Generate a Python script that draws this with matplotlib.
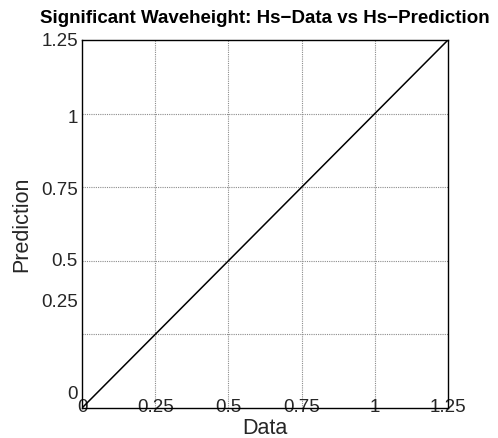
import matplotlib
matplotlib.use("Agg")
import matplotlib.pyplot as plt

# data
data_vals = [0.0, 1.25]
pred_vals = [0.0, 1.25]
x_ticks = [0, 0.25, 0.5, 0.75, 1.0, 1.25]
x_labels = ["0", "0.25", "0.5", "0.75", "1", "1.25"]
grid_vals = [0.25, 0.5, 0.75, 1.0]
y_tick_pos = [0.051, 0.364, 0.503, 0.747, 0.99, 1.25]
y_labels = ["0", "0.25", "0.5", "0.75", "1", "1.25"]

plt.rcParams['font.family'] = ['Liberation Sans', 'DejaVu Sans']

fig = plt.figure(figsize=(4.98, 4.38), dpi=100)
ax = fig.add_axes([82/498, 1-408/438, 366/498, 368/438])

for g in grid_vals:
    ax.axvline(g, color='#8c8c8c', linestyle=(0, (1, 1)), linewidth=0.8, zorder=1)
    ax.axhline(g, color='#8c8c8c', linestyle=(0, (1, 1)), linewidth=0.8, zorder=1)

ax.plot(data_vals, pred_vals, color='black', linewidth=1.1, zorder=3)

ax.set_xlim(0, 1.25)
ax.set_ylim(0, 1.25)
ax.set_xticks(x_ticks)
ax.set_xticklabels(x_labels)
ax.set_yticks(y_tick_pos)
ax.set_yticklabels(y_labels)
ax.tick_params(axis='both', length=0, labelsize=13.5, labelcolor='#262626')
ax.tick_params(axis='x', pad=0)
ax.tick_params(axis='y', pad=3)
for lab in ax.get_xticklabels():
    lab.set_va('center')

for s in ax.spines.values():
    s.set_color('black')
    s.set_linewidth(1.0)

ax.set_xlabel("Data", fontsize=15.5, color='#262626', labelpad=1)
ax.set_ylabel("Prediction", fontsize=15.5, color='#262626', labelpad=6)
ax.set_title("Significant Waveheight: Hs\u2212Data vs Hs\u2212Prediction",
             fontsize=13.5, fontweight='bold', pad=12)

fig.savefig("out.png", dpi=100)
